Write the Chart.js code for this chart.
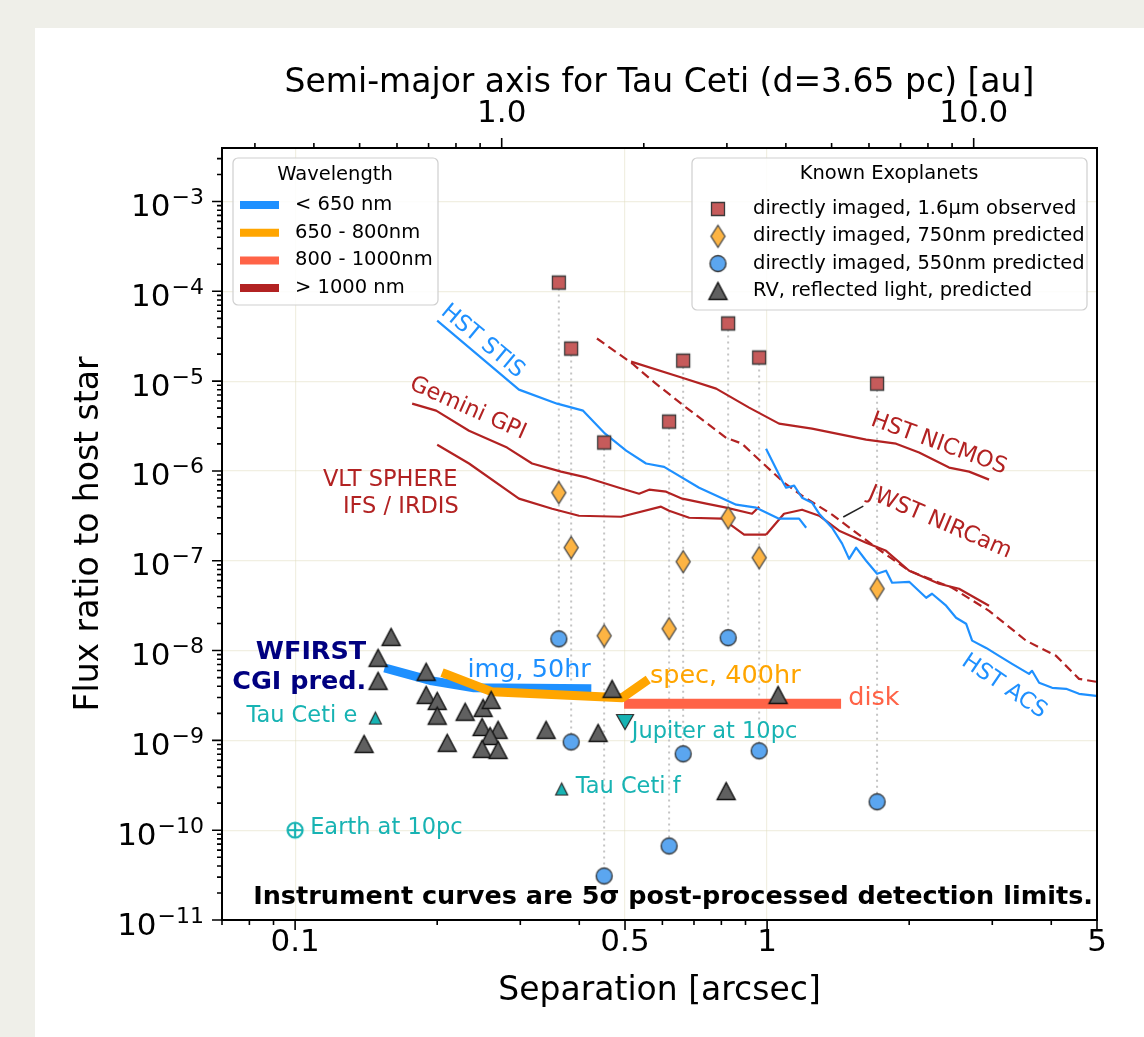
<!DOCTYPE html>
<html>
<head>
<meta charset="utf-8">
<script src="https://cdn.jsdelivr.net/npm/chart.js@4.4.0/dist/chart.umd.min.js"></script>
<style>
  html, body { margin: 0; padding: 0; background: #efefe9; }
  #panel { position: absolute; left: 35px; top: 28px; width: 1109px; height: 1009px; background: #fff; }
  #wrap { position: absolute; left: 0; top: 0; width: 1144px; height: 1037px; }
</style>
</head>
<body>
<div id="panel"></div>
<div id="wrap"><canvas id="chart" width="1144" height="1037"></canvas></div>
<script>
// ---- values ----
const DIST_PC = 3.65;
const X_MIN = 0.07, X_MAX = 5;
const Y_MIN = 1e-11, Y_MAX = 3.94e-3;

const xMajorTicks = [0.1, 0.5, 1, 5];
const xMajorLabels = ['0.1', '0.5', '1', '5'];
const xMinorTicks = [0.07, 0.08, 0.09, 0.2, 0.3, 0.4, 0.6, 0.7, 0.8, 0.9, 2, 3, 4];
const auMajorTicks = [1, 10];
const auMajorLabels = ['1.0', '10.0'];
const auMinorTicks = [0.3, 0.4, 0.5, 0.6, 0.7, 0.8, 0.9, 2, 3, 4, 5, 6, 7, 8, 9];
const yDecades = [-11, -10, -9, -8, -7, -6, -5, -4, -3];

// directly imaged planets (same separation for the three estimates)
const diSep     = [0.362, 0.3845, 0.4516, 0.62, 0.664, 0.827, 0.962, 1.71];
const diObs1600 = [1.25e-4, 2.3e-5, 2.07e-6, 3.54e-6, 1.69e-5, 4.38e-5, 1.83e-5, 9.37e-6];
const diPred750 = [5.73e-7, 1.4e-7, 1.46e-8, 1.75e-8, 9.75e-8, 3.01e-7, 1.08e-7, 4.88e-8];
const diPred550 = [1.35e-8, 9.6e-10, 3.09e-11, 6.67e-11, 7.08e-10, 1.39e-8, 7.64e-10, 2.07e-10];

// RV planets, reflected light predicted
const rvSep  = [0.1597, 0.1499, 0.1499, 0.14, 0.1895, 0.1895, 0.2, 0.2, 0.21, 0.2292, 0.2502,
                0.2602, 0.249, 0.2692, 0.2589, 0.249, 0.2692, 0.3402, 0.4385, 0.4694, 1.055, 0.819];
const rvFlux = [1.42e-8, 8.3e-9, 4.6e-9, 9.14e-10, 5.8e-9, 3.21e-9, 2.75e-9, 1.88e-9, 9.38e-10, 2.08e-9, 2.3e-9,
                2.82e-9, 1.41e-9, 1.31e-9, 1.12e-9, 8.04e-10, 7.83e-10, 1.31e-9, 1.21e-9, 3.75e-9, 3.21e-9, 2.73e-10];

// reference objects
const tauCetiE = [0.1479, 1.77e-9];
const tauCetiF = [0.367, 2.87e-10];
const jupiter10pc = [0.5, 1.6e-9];
const earth10pc = [0.1, 1e-10];

// instrument curves
const stisSep  = [0.2, 0.298, 0.359, 0.4075, 0.4537, 0.5028, 0.554, 0.605, 0.7178, 0.86, 0.948, 1.06, 1.169, 1.21];
const stisFlux = [4.72e-5, 8.04e-6, 5.61e-6, 4.69e-6, 2.6e-6, 1.68e-6, 1.21e-6, 1.11e-6, 6.5e-7, 4.21e-7, 3.9e-7, 2.94e-7, 2.94e-7, 2.33e-7];

const acsSep  = [0.995, 1.076, 1.097, 1.141, 1.186, 1.245, 1.289, 1.373, 1.442, 1.492, 1.544, 1.621, 1.71, 1.787, 1.84, 2.0,
                 2.173, 2.236, 2.395, 2.514, 2.64, 2.719, 2.911, 3.1, 3.304, 3.589, 3.642, 3.77, 4.017, 4.3, 4.58, 4.98];
const acsFlux = [1.77e-6, 7.78e-7, 6.5e-7, 6.85e-7, 5.03e-7, 4.43e-7, 3.34e-7, 2.33e-7, 1.55e-7, 1.05e-7, 1.4e-7, 1.0e-7, 7.16e-8, 7.74e-8, 5.69e-8, 5.83e-8,
                 3.87e-8, 4.29e-8, 3.16e-8, 2.32e-8, 1.99e-8, 1.29e-8, 1.07e-8, 8.73e-9, 7.11e-9, 5.5e-9, 5.95e-9, 4.38e-9, 3.85e-9, 3.75e-9, 3.3e-9, 3.13e-9];

const nicmosSep  = [0.515, 0.661, 0.78, 0.916, 1.06, 1.245, 1.621, 1.876, 2.099, 2.43, 2.679, 2.953];
const nicmosFlux = [1.65e-5, 1.09e-5, 8.24e-6, 5.07e-6, 3.36e-6, 2.96e-6, 2.23e-6, 2.01e-6, 1.6e-6, 1.09e-6, 9.82e-7, 8.0e-7];

const nircamDashSep  = [0.436, 0.518, 0.571, 0.674, 0.819, 0.885, 0.962, 1.086, 1.186, 1.373, 1.702, 2.0, 2.466, 2.953, 3.537, 4.095, 4.58, 4.98];
const nircamDashFlux = [2.98e-5, 1.57e-5, 1.01e-5, 5.07e-6, 2.34e-6, 2.01e-6, 1.33e-6, 7.4e-7, 5.3e-7, 3.26e-7, 1.4e-7, 7.74e-8, 5.0e-8, 2.77e-8, 1.29e-8, 8.73e-9, 4.84e-9, 4.49e-9];

const nircamSep  = [0.995, 1.086, 1.186, 1.289, 1.421, 1.621, 1.787, 2.0, 2.314, 2.551, 2.953];
const nircamFlux = [1.95e-7, 3.34e-7, 3.7e-7, 3.17e-7, 2.16e-7, 1.59e-7, 1.29e-7, 7.74e-8, 5.55e-8, 4.88e-8, 3.16e-8];
const nircamPointer = [[1.45, 3.07e-7], [1.599, 4.06e-7]];

const sphereSep  = [0.2, 0.2336, 0.298, 0.3504, 0.3994, 0.4905, 0.596, 0.62, 0.684, 0.803, 0.894, 0.995];
const sphereFlux = [1.96e-6, 1.21e-6, 4.91e-7, 3.79e-7, 3.17e-7, 3.09e-7, 4.0e-7, 3.61e-7, 3.01e-7, 2.94e-7, 1.95e-7, 1.95e-7];

const gpiSep  = [0.177, 0.199, 0.2336, 0.2812, 0.3177, 0.366, 0.4155, 0.4857, 0.5355, 0.5623, 0.611, 0.661, 0.743, 0.819, 0.929, 0.962];
const gpiFlux = [5.61e-6, 4.69e-6, 2.8e-6, 1.82e-6, 1.21e-6, 9.82e-7, 8.41e-7, 6.5e-7, 5.58e-7, 6.18e-7, 5.87e-7, 4.91e-7, 4.32e-7, 3.9e-7, 3.34e-7, 4.0e-7];

// WFIRST CGI predictions
const cgiImgSep   = [0.158, 0.195, 0.2394, 0.415];
const cgiImgFlux  = [6.2e-9, 4.6e-9, 3.85e-9, 3.75e-9];
const cgiSpecSep  = [0.209, 0.2615, 0.493, 0.55];
const cgiSpecFlux = [5.45e-9, 3.47e-9, 2.98e-9, 4.45e-9];
const cgiDiskSep  = [0.51, 1.4];
const cgiDiskFlux = [2.55e-9, 2.55e-9];

// ---- styles ----
const BLUE = '#1e90ff', ORANGE = '#ffa500', TOMATO = '#ff6347', FIREBRICK = '#b22222';
const CYAN = '#17b3b3', NAVY = '#000080';
const FONT = '"DejaVu Sans", sans-serif';
const GRID = 'rgba(225,220,190,0.45)';

const pts = (xs, ys) => xs.map((x, i) => ({ x: x, y: ys[i] }));

function makeMarker(shape, w, h, fill, stroke, lw) {
  const pad = lw + 1;
  const c = document.createElement('canvas');
  c.width = Math.ceil(w + pad * 2);
  c.height = Math.ceil(h + pad * 2);
  const g = c.getContext('2d');
  g.translate(c.width / 2, c.height / 2);
  g.beginPath();
  if (shape === 'square') g.rect(-w / 2, -h / 2, w, h);
  else if (shape === 'circle') g.ellipse(0, 0, w / 2, h / 2, 0, 0, Math.PI * 2);
  else if (shape === 'diamond') { g.moveTo(0, -h / 2); g.lineTo(w / 2, 0); g.lineTo(0, h / 2); g.lineTo(-w / 2, 0); g.closePath(); }
  else if (shape === 'tri') { g.moveTo(0, -h / 2); g.lineTo(w / 2, h / 2); g.lineTo(-w / 2, h / 2); g.closePath(); }
  else if (shape === 'triDown') { g.moveTo(0, h / 2); g.lineTo(w / 2, -h / 2); g.lineTo(-w / 2, -h / 2); g.closePath(); }
  else if (shape === 'earth') {
    g.arc(0, 0, w / 2, 0, Math.PI * 2);
    g.moveTo(-w / 2, 0); g.lineTo(w / 2, 0);
    g.moveTo(0, -h / 2); g.lineTo(0, h / 2);
  }
  if (fill) { g.fillStyle = fill; g.fill(); }
  g.lineWidth = lw;
  g.strokeStyle = stroke;
  g.stroke();
  return c;
}

const mkSquare  = makeMarker('square', 13, 13, '#c65b5b', '#3a3a3a', 1.3);
const mkDiamond = makeMarker('diamond', 14, 22, '#fdb443', '#4a4a4a', 1.3);
const mkCircle  = makeMarker('circle', 16, 16, '#5ba6f0', '#333333', 1.3);
const mkTri     = makeMarker('tri', 18, 17, '#606060', '#111111', 1.4);
const mkTauTri  = makeMarker('tri', 12, 12, CYAN, '#2a2a2a', 1.2);
const mkJupTri  = makeMarker('triDown', 17, 15, CYAN, '#2a2a2a', 1.2);
const mkEarth   = makeMarker('earth', 15, 15, null, CYAN, 2.2);

function markerSet(data, style, order) {
  return { data: data, pointStyle: style, pointRadius: 8, showLine: false, order: order };
}
function curve(xs, ys, color, width, order, dash) {
  return {
    data: pts(xs, ys), showLine: true, pointRadius: 0, borderColor: color, borderWidth: width,
    borderDash: dash || [], fill: false, order: order, borderJoinStyle: 'round', borderCapStyle: 'butt'
  };
}

// dotted connectors between the estimates of each imaged planet
const connectors = [];
diSep.forEach((s, i) => {
  connectors.push({ x: s, y: diObs1600[i] }, { x: s, y: diPred550[i] }, { x: s, y: null });
});

const datasets = [
  markerSet([{ x: tauCetiE[0], y: tauCetiE[1] }, { x: tauCetiF[0], y: tauCetiF[1] }], mkTauTri, 1),
  markerSet([{ x: jupiter10pc[0], y: jupiter10pc[1] }], mkJupTri, 1),
  markerSet([{ x: earth10pc[0], y: earth10pc[1] }], mkEarth, 1),
  markerSet(pts(rvSep, rvFlux), mkTri, 2),
  markerSet(pts(diSep, diPred550), mkCircle, 3),
  markerSet(pts(diSep, diPred750), mkDiamond, 4),
  markerSet(pts(diSep, diObs1600), mkSquare, 5),
  Object.assign(curve(cgiSpecSep, cgiSpecFlux, ORANGE, 9, 6), { borderCapStyle: 'square' }),
  Object.assign(curve(cgiImgSep, cgiImgFlux, BLUE, 9, 7), { borderCapStyle: 'square' }),
  Object.assign(curve(cgiDiskSep, cgiDiskFlux, TOMATO, 10, 8), { borderCapStyle: 'square' }),
  curve(stisSep, stisFlux, BLUE, 2.2, 9),
  curve(acsSep, acsFlux, BLUE, 2.2, 10),
  curve(gpiSep, gpiFlux, FIREBRICK, 2.2, 11),
  curve(sphereSep, sphereFlux, FIREBRICK, 2.2, 12),
  curve(nircamSep, nircamFlux, FIREBRICK, 2.2, 13),
  curve(nicmosSep, nicmosFlux, FIREBRICK, 2.2, 14),
  curve(nircamDashSep, nircamDashFlux, FIREBRICK, 2.2, 15, [9, 5]),
  curve(nircamPointer.map(p => p[0]), nircamPointer.map(p => p[1]), '#222222', 1.5, 16),
  Object.assign(curve([], [], '#c4c4c4', 2, 17, [2, 4]), { data: connectors, spanGaps: false })
];

// text labels in the plot, anchored in data coordinates
const annotations = [
  { text: 'HST STIS', x: 0.2495, y: 2.76e-5, rot: 40, color: BLUE, size: 22.5 },
  { text: 'Gemini GPI', x: 0.2324, y: 4.95e-6, rot: 24, color: FIREBRICK, size: 22.5 },
  { text: 'VLT SPHERE', x: 0.2208, y: 7.92e-7, align: 'right', color: FIREBRICK, size: 22.5 },
  { text: 'IFS / IRDIS', x: 0.2222, y: 3.96e-7, align: 'right', color: FIREBRICK, size: 22.5 },
  { text: 'HST NICMOS', x: 2.312, y: 2.0e-6, rot: 20, color: FIREBRICK, size: 22.5 },
  { text: 'JWST NIRCam', x: 2.324, y: 2.66e-7, rot: 23, color: FIREBRICK, size: 22.5 },
  { text: 'HST ACS', x: 3.178, y: 3.97e-9, rot: 34, color: BLUE, size: 22.5 },
  { text: 'WFIRST', x: 0.1415, y: 9.61e-9, align: 'right', color: NAVY, size: 25.5, bold: true },
  { text: 'CGI pred.', x: 0.1415, y: 4.46e-9, align: 'right', color: NAVY, size: 25.5, bold: true },
  { text: 'img, 50hr', x: 0.2318, y: 6.07e-9, align: 'left', color: BLUE, size: 25.5 },
  { text: 'spec, 400hr', x: 0.5646, y: 5.2e-9, align: 'left', color: ORANGE, size: 25.5 },
  { text: 'disk', x: 1.486, y: 2.96e-9, align: 'left', color: TOMATO, size: 25.5 },
  { text: 'Tau Ceti e', x: 0.1354, y: 1.87e-9, align: 'right', color: CYAN, size: 22.5 },
  { text: 'Tau Ceti f', x: 0.393, y: 3.02e-10, align: 'left', color: CYAN, size: 22.5 },
  { text: 'Jupiter at 10pc', x: 0.5168, y: 1.24e-9, align: 'left', color: CYAN, size: 22.5 },
  { text: 'Earth at 10pc', x: 0.1076, y: 1.05e-10, align: 'left', color: CYAN, size: 22.5 }
];

const wavelengthNames = ['< 650 nm', '650 - 800nm', '800 - 1000nm', '> 1000 nm'];
const wavelengthColors = [BLUE, ORANGE, TOMATO, FIREBRICK];
const exoplanetNames = ['directly imaged, 1.6\u03bcm observed', 'directly imaged, 750nm predicted',
                        'directly imaged, 550nm predicted', 'RV, reflected light, predicted'];
const exoplanetMarkers = [mkSquare, mkDiamond, mkCircle, mkTri];

const isDecade = v => Math.abs(Math.log10(v) - Math.round(Math.log10(v))) < 1e-6;

function legendBox(ctx, x, y, w, h) {
  ctx.fillStyle = 'rgba(255,255,255,0.85)';
  ctx.strokeStyle = '#cfcfcf';
  ctx.lineWidth = 1.2;
  ctx.beginPath();
  ctx.roundRect(x, y, w, h, 5);
  ctx.fill();
  ctx.stroke();
}

const decor = {
  id: 'decor',
  afterDatasetsDraw(chart) {
    const ctx = chart.ctx, a = chart.chartArea;
    const sx = chart.scales.x, sy = chart.scales.y, st = chart.scales.xTop;
    ctx.save();

    // annotations
    annotations.forEach(t => {
      const px = sx.getPixelForValue(t.x), py = sy.getPixelForValue(t.y);
      ctx.save();
      ctx.translate(px, py);
      if (t.rot) ctx.rotate(t.rot * Math.PI / 180);
      ctx.font = (t.bold ? 'bold ' : '') + t.size + 'px ' + FONT;
      ctx.fillStyle = t.color;
      ctx.textAlign = t.align || 'center';
      ctx.textBaseline = 'middle';
      ctx.fillText(t.text, 0, 0);
      ctx.restore();
    });

    // note at the bottom of the axes
    ctx.font = 'bold 25.5px ' + FONT;
    ctx.fillStyle = '#000';
    ctx.textAlign = 'right';
    ctx.textBaseline = 'middle';
    ctx.fillText('Instrument curves are 5\u03c3 post-processed detection limits.', a.right - 4, a.bottom - 23);

    // spines
    ctx.strokeStyle = '#000';
    ctx.lineWidth = 2;
    ctx.strokeRect(a.left, a.top, a.right - a.left, a.bottom - a.top);

    // ticks
    ctx.lineWidth = 1.6;
    ctx.beginPath();
    const tk = (x1, y1, x2, y2) => { ctx.moveTo(x1, y1); ctx.lineTo(x2, y2); };
    xMajorTicks.forEach(v => { const p = sx.getPixelForValue(v); tk(p, a.bottom, p, a.bottom + 10); });
    xMinorTicks.forEach(v => { const p = sx.getPixelForValue(v); tk(p, a.bottom, p, a.bottom + 5); });
    auMajorTicks.forEach(v => { const p = st.getPixelForValue(v); tk(p, a.top, p, a.top - 10); });
    auMinorTicks.forEach(v => { const p = st.getPixelForValue(v); tk(p, a.top, p, a.top - 5); });
    yDecades.forEach(e => {
      const p = sy.getPixelForValue(Math.pow(10, e));
      tk(a.left, p, a.left - 10, p);
      for (let m = 2; m <= 9; m++) {
        const v = m * Math.pow(10, e);
        if (v > Y_MAX) break;
        const q = sy.getPixelForValue(v);
        tk(a.left, q, a.left - 5, q);
      }
    });
    ctx.stroke();

    // tick labels
    ctx.fillStyle = '#000';
    ctx.font = '31px ' + FONT;
    ctx.textAlign = 'center';
    ctx.textBaseline = 'middle';
    xMajorTicks.forEach((v, i) => ctx.fillText(xMajorLabels[i], sx.getPixelForValue(v), a.bottom + 23));
    auMajorTicks.forEach((v, i) => ctx.fillText(auMajorLabels[i], st.getPixelForValue(v), a.top - 34));

    ctx.textAlign = 'right';
    ctx.textBaseline = 'alphabetic';
    yDecades.forEach(e => {
      const p = sy.getPixelForValue(Math.pow(10, e));
      const expText = '\u2212' + Math.abs(e);
      ctx.font = '22px ' + FONT;
      const ew = ctx.measureText(expText).width;
      ctx.fillText(expText, a.left - 18, p + 2.5);
      ctx.font = '31px ' + FONT;
      ctx.fillText('10', a.left - 18 - ew - 1, p + 14.5);
    });

    // axis titles
    ctx.font = '33px ' + FONT;
    ctx.textAlign = 'center';
    ctx.textBaseline = 'alphabetic';
    const cx = (a.left + a.right) / 2;
    ctx.fillText('Separation [arcsec]', cx, a.bottom + 80);
    ctx.fillText('Semi-major axis for Tau Ceti (d=' + DIST_PC + ' pc) [au]', cx, a.top - 56);
    ctx.save();
    ctx.translate(a.left - 124, (a.top + a.bottom) / 2);
    ctx.rotate(-Math.PI / 2);
    ctx.fillText('Flux ratio to host star', 0, 0);
    ctx.restore();

    // legend: wavelength
    let bx = a.left + 11, by = a.top + 10;
    legendBox(ctx, bx, by, 205, 147);
    ctx.fillStyle = '#000';
    ctx.font = '19.5px ' + FONT;
    ctx.textAlign = 'center';
    ctx.textBaseline = 'middle';
    ctx.fillText('Wavelength', bx + 102, by + 17);
    ctx.textAlign = 'left';
    wavelengthNames.forEach((name, i) => {
      const ry = by + 47 + i * 27.7;
      ctx.strokeStyle = wavelengthColors[i];
      ctx.lineWidth = 8;
      ctx.lineCap = 'butt';
      ctx.beginPath(); ctx.moveTo(bx + 7, ry); ctx.lineTo(bx + 46, ry); ctx.stroke();
      ctx.fillStyle = '#000';
      ctx.fillText(name, bx + 62, ry);
    });

    // legend: known exoplanets
    bx = a.right - 405; by = a.top + 10;
    legendBox(ctx, bx, by, 395, 152);
    ctx.fillStyle = '#000';
    ctx.textAlign = 'center';
    ctx.fillText('Known Exoplanets', bx + 197, by + 16);
    ctx.textAlign = 'left';
    exoplanetNames.forEach((name, i) => {
      const ry = by + 51 + i * 27.3;
      const m = exoplanetMarkers[i];
      ctx.drawImage(m, bx + 26 - m.width / 2, ry - m.height / 2);
      ctx.fillText(name, bx + 61, ry);
    });

    ctx.restore();
  }
};

new Chart(document.getElementById('chart'), {
  type: 'scatter',
  data: { datasets: datasets },
  options: {
    responsive: false,
    animation: false,
    layout: { padding: { left: 0, top: 0, right: 47, bottom: 0 } },
    plugins: { legend: { display: false }, tooltip: { enabled: false } },
    scales: {
      x: {
        type: 'logarithmic', position: 'bottom', min: X_MIN, max: X_MAX,
        afterBuildTicks: s => { s.ticks = xMajorTicks.concat(xMinorTicks).map(v => ({ value: v })); },
        afterFit: s => { s.height = 117; },
        ticks: { display: false },
        border: { display: false },
        grid: { drawTicks: false, lineWidth: 1.2, color: c => (c.tick && [0.1, 0.5, 1].includes(c.tick.value)) ? GRID : 'rgba(0,0,0,0)' }
      },
      xTop: {
        type: 'logarithmic', position: 'top', min: X_MIN * DIST_PC, max: X_MAX * DIST_PC,
        afterFit: s => { s.height = 148; },
        ticks: { display: false },
        border: { display: false },
        grid: { display: false }
      },
      y: {
        type: 'logarithmic', position: 'left', min: Y_MIN, max: Y_MAX,
        afterBuildTicks: s => { s.ticks = yDecades.map(e => ({ value: Math.pow(10, e) })); },
        afterFit: s => { s.width = 222; },
        ticks: { display: false },
        border: { display: false },
        grid: { drawTicks: false, lineWidth: 1.2, color: c => (c.tick && isDecade(c.tick.value)) ? GRID : 'rgba(0,0,0,0)' }
      }
    }
  },
  plugins: [decor]
});
</script>
</body>
</html>
